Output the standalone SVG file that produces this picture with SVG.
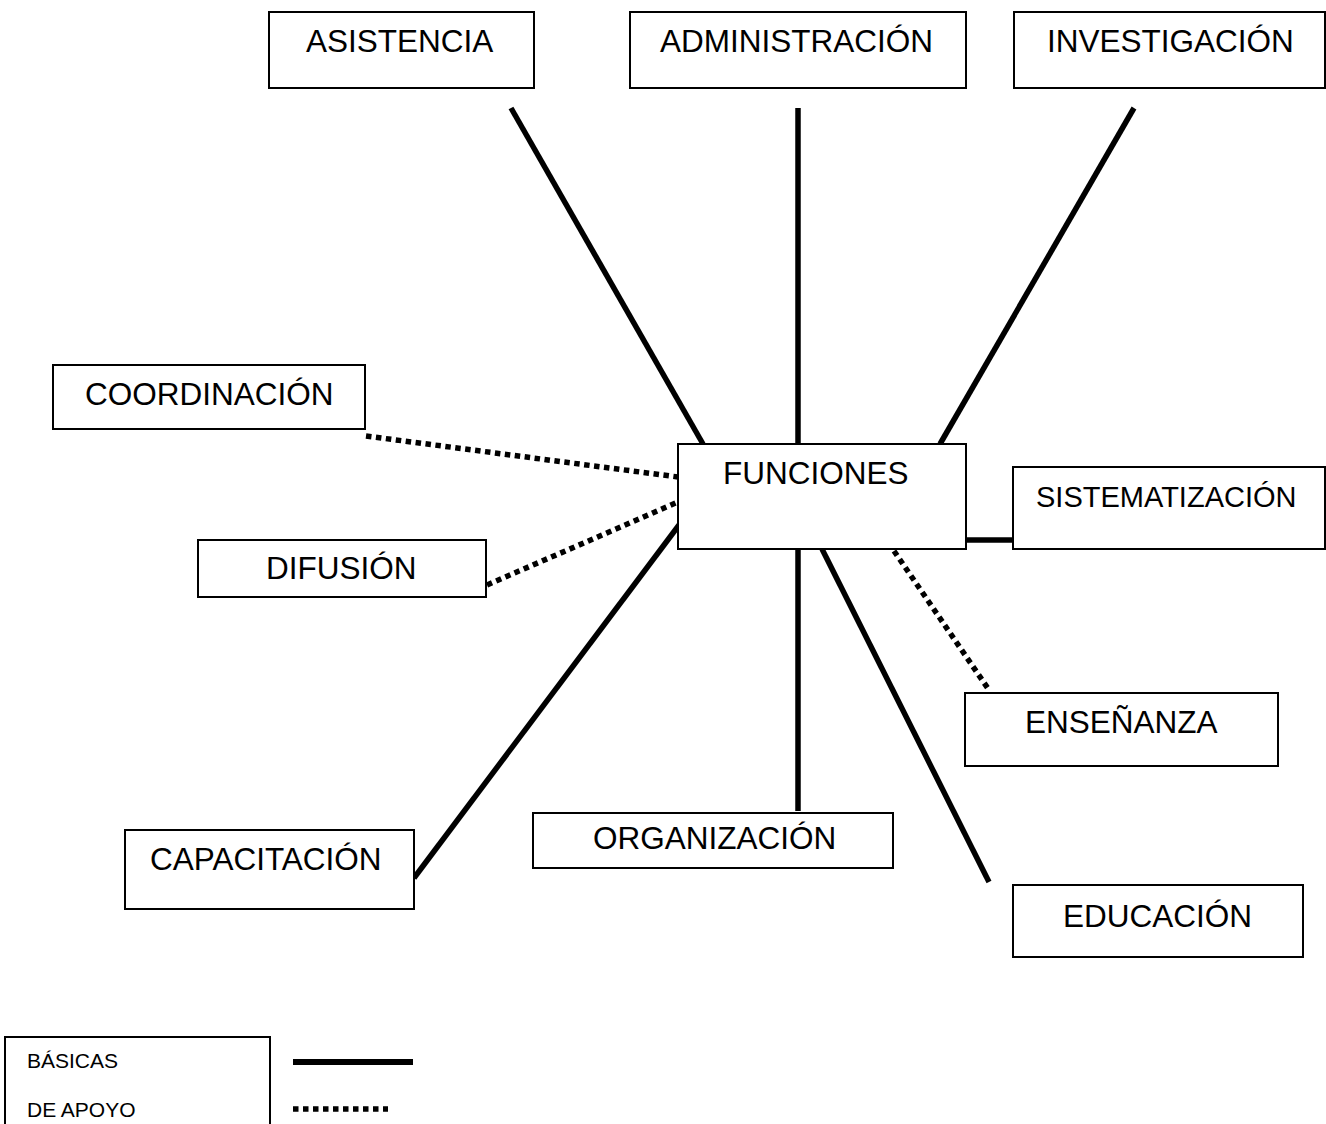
<svg xmlns="http://www.w3.org/2000/svg" width="1326" height="1124" viewBox="0 0 1326 1124">
<style>
.box{fill:#fff;stroke:#000;stroke-width:2}
.lbl{font-family:"Liberation Sans",Arial,sans-serif;font-size:31.5px;fill:#000}
.small{font-family:"Liberation Sans",Arial,sans-serif;font-size:21px;fill:#000}
.solid{stroke:#000;stroke-width:5.5;fill:none}
.dot{stroke:#000;stroke-width:5.5;stroke-dasharray:5.5 4.5;fill:none}
</style>
<rect width="1326" height="1124" fill="#fff"/>
<g id="connectors">
<line class="solid" x1="511" y1="108" x2="703" y2="444"/>
<line class="solid" x1="798" y1="108" x2="798" y2="444"/>
<line class="solid" x1="1134" y1="108" x2="940" y2="444"/>
<line class="solid" x1="966" y1="540" x2="1013" y2="540"/>
<line class="dot" x1="366" y1="436" x2="678" y2="477"/>
<line class="dot" x1="487" y1="585" x2="678" y2="502"/>
<line class="solid" x1="414" y1="878" x2="679" y2="525"/>
<line class="solid" x1="798" y1="549" x2="798" y2="811"/>
<line class="solid" x1="822" y1="549" x2="989" y2="882"/>
<line class="dot" x1="894" y1="551" x2="989" y2="690"/>
</g>
<g id="asistencia"><rect class="box" x="269" y="12" width="265" height="76"/><text class="lbl" x="306" y="52">ASISTENCIA</text></g>
<g id="administracion"><rect class="box" x="630" y="12" width="336" height="76"/><text class="lbl" x="660" y="52">ADMINISTRACIÓN</text></g>
<g id="investigacion"><rect class="box" x="1014" y="12" width="311" height="76"/><text class="lbl" x="1047" y="52">INVESTIGACIÓN</text></g>
<g id="coordinacion"><rect class="box" x="53" y="365" width="312" height="64"/><text class="lbl" x="85" y="405">COORDINACIÓN</text></g>
<g id="funciones"><rect class="box" x="678" y="444" width="288" height="105"/><text class="lbl" x="723" y="484">FUNCIONES</text></g>
<g id="sistematizacion"><rect class="box" x="1013" y="467" width="312" height="82"/><text class="lbl" x="1036" y="507" style="font-size:29px">SISTEMATIZACIÓN</text></g>
<g id="difusion"><rect class="box" x="198" y="540" width="288" height="57"/><text class="lbl" x="266" y="579">DIFUSIÓN</text></g>
<g id="ensenanza"><rect class="box" x="965" y="693" width="313" height="73"/><text class="lbl" x="1025" y="733">ENSEÑANZA</text></g>
<g id="organizacion"><rect class="box" x="533" y="813" width="360" height="55"/><text class="lbl" x="593" y="849">ORGANIZACIÓN</text></g>
<g id="capacitacion"><rect class="box" x="125" y="830" width="289" height="79"/><text class="lbl" x="150" y="870">CAPACITACIÓN</text></g>
<g id="educacion"><rect class="box" x="1013" y="885" width="290" height="72"/><text class="lbl" x="1063" y="927">EDUCACIÓN</text></g>
<g id="legend">
<rect class="box" x="5" y="1037" width="265" height="100"/>
<text class="small" x="27" y="1068">BÁSICAS</text>
<text class="small" x="27" y="1117">DE APOYO</text>
<line class="solid" x1="293" y1="1062" x2="413" y2="1062" style="stroke-width:6"/>
<line class="dot" x1="293" y1="1109" x2="388" y2="1109"/>
</g>
</svg>
